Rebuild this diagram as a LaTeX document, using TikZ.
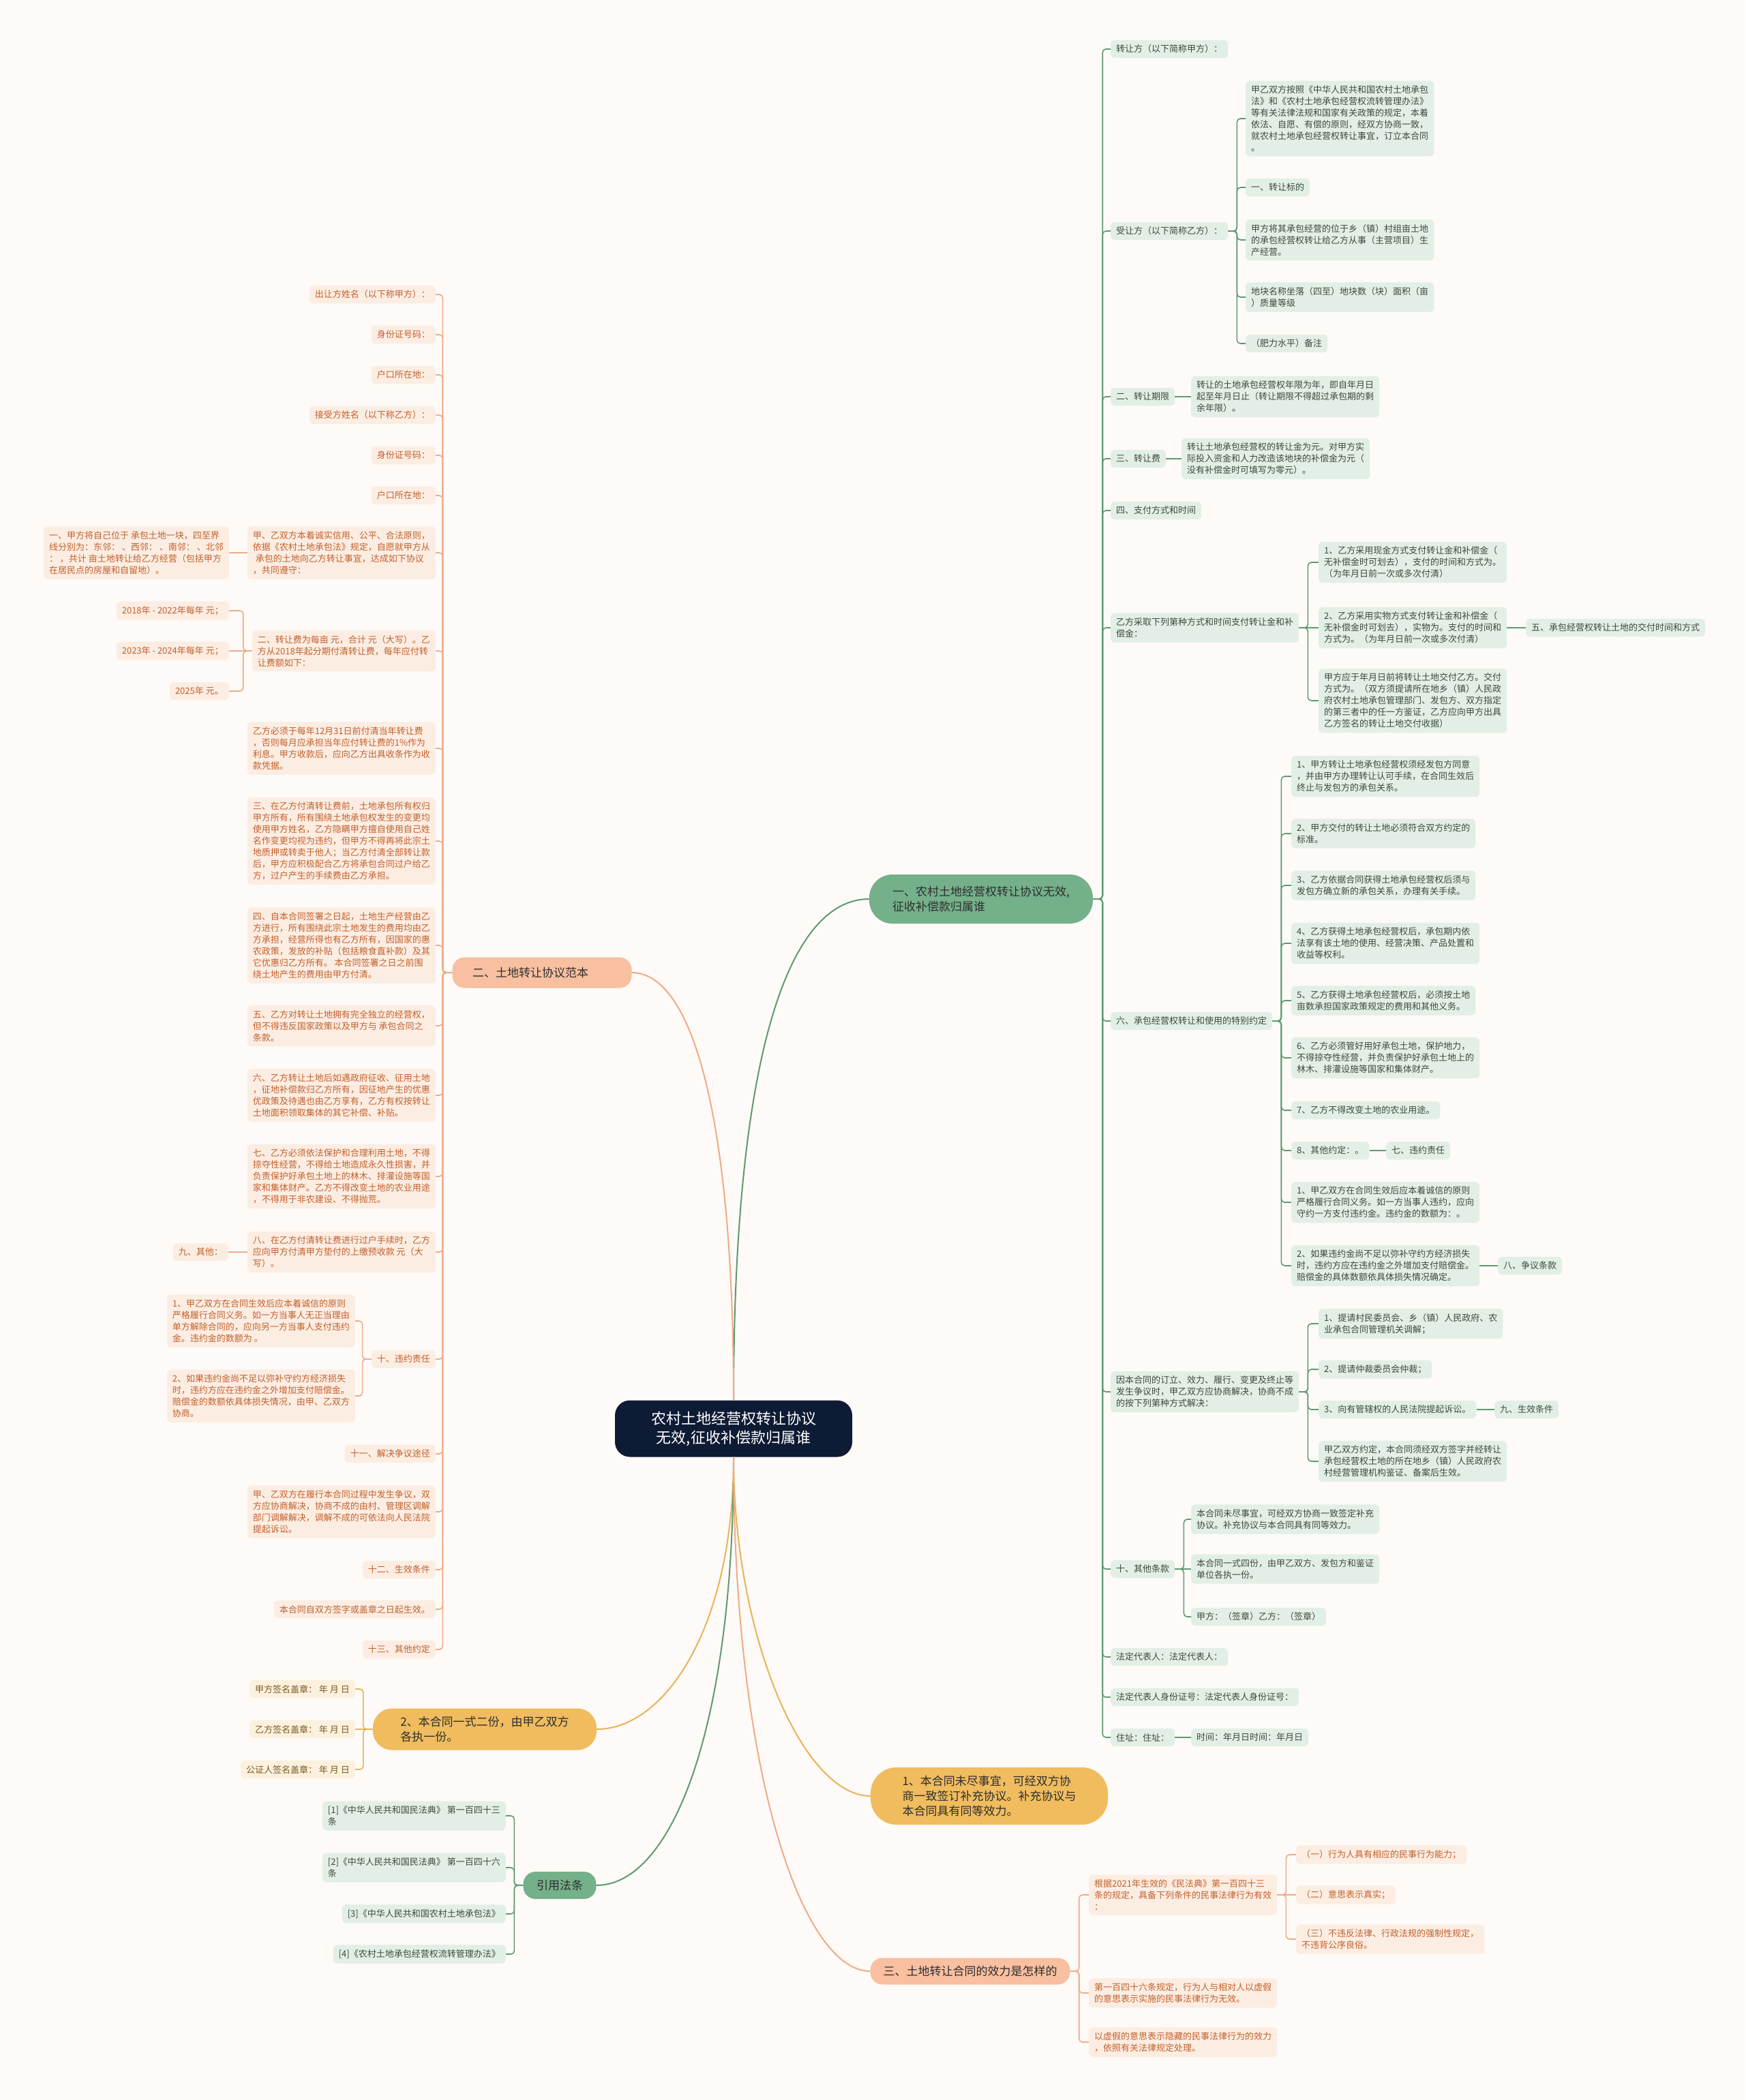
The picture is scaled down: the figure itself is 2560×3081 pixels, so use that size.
\documentclass[tikz,border=0pt]{standalone}
\usepackage{fontspec}
\setmainfont{Noto Sans CJK SC}
\usepackage{tikz}

\definecolor{bgcream}{HTML}{FDFAF7}
\definecolor{rootblue}{HTML}{0E1B35}
\definecolor{grnmain}{HTML}{74B08A}
\definecolor{grnline}{HTML}{5E9A70}
\definecolor{grnlight}{HTML}{E2EFE6}
\definecolor{grntext}{HTML}{3B4A40}
\definecolor{salmain}{HTML}{F8BFA0}
\definecolor{salline}{HTML}{EFAB85}
\definecolor{sallight}{HTML}{FCEDE3}
\definecolor{saltext}{HTML}{C2602A}
\definecolor{yelmain}{HTML}{F0BC5E}
\definecolor{yelline}{HTML}{E6B45A}
\definecolor{yellight}{HTML}{FCF1DE}
\definecolor{yeltext}{HTML}{7A5A22}

\begin{document}
\begin{tikzpicture}[x=1pt,y=-1pt,
  leaf/.style={rounded corners=6pt,inner xsep=8pt,inner ysep=7pt,align=left,font=\fontsize{13}{17}\selectfont},
  gleaf/.style={leaf,fill=grnlight,text=grntext},
  sleaf/.style={leaf,fill=sallight,text=saltext},
  yleaf/.style={leaf,fill=yellight,text=yeltext},
  topic/.style={rounded corners=18pt,align=left,text=black!82,font=\fontsize{17}{22}\selectfont},
  gtopic/.style={topic,fill=grnmain},
  stopic/.style={topic,fill=salmain},
  ytopic/.style={topic,fill=yelmain},
  rootbox/.style={fill=rootblue,text=white,rounded corners=22pt,align=center,font=\fontsize{22}{28}\selectfont},
  gline/.style={draw=grnline,line width=1.6pt,rounded corners=5pt},
  sline/.style={draw=salline,line width=1.6pt,rounded corners=5pt},
  yline/.style={draw=yelline,line width=1.6pt,rounded corners=5pt},
  curve/.style={line width=2pt}]

\fill[bgcream] (0,0) rectangle (2560,3081);
\useasboundingbox (0,0) rectangle (2560,3081);

% Root and main branches
\node[rootbox,minimum width=348pt,minimum height=83pt] (root) at (1076,2096) {农村土地经营权转让协议\\无效,征收补偿款归属谁};
\node[gtopic,minimum width=328pt,minimum height=72pt,rounded corners=34pt] (b1) at (1439,1319) {一、农村土地经营权转让协议无效,\\征收补偿款归属谁};
\node[stopic,minimum width=263pt,minimum height=45pt] (b2) at (795,1427) {二、土地转让协议范本\hspace*{34pt}};
\node[ytopic,minimum width=328pt,minimum height=61pt,rounded corners=28pt] (b3) at (711,2537) {2、本合同一式二份，由甲乙双方\\各执一份。};
\node[gtopic,minimum width=107pt,minimum height=40pt] (b4) at (821,2766) {引用法条};
\node[ytopic,minimum width=348pt,minimum height=84pt,rounded corners=38pt] (b5) at (1451,2635) {1、本合同未尽事宜，可经双方协\\商一致签订补充协议。补充协议与\\本合同具有同等效力。};
\node[stopic,minimum width=293pt,minimum height=39pt] (b6) at (1423,2892) {三、土地转让合同的效力是怎样的};

% Branch 1: contract items on the right
\node[gleaf,anchor=west] (ra) at (1629,72) {转让方（以下简称甲方）：};
\node[gleaf,anchor=west] (rb) at (1629,339) {受让方（以下简称乙方）：};
\node[gleaf,anchor=west] (rb1) at (1827,174) {甲乙双方按照《中华人民共和国农村土地承包\\法》和《农村土地承包经营权流转管理办法》\\等有关法律法规和国家有关政策的规定，本着\\依法、自愿、有偿的原则，经双方协商一致，\\就农村土地承包经营权转让事宜，订立本合同\\。};
\node[gleaf,anchor=west] (rb2) at (1827,275) {一、转让标的};
\node[gleaf,anchor=west] (rb3) at (1827,352) {甲方将其承包经营的位于乡（镇）村组亩土地\\的承包经营权转让给乙方从事（主营项目）生\\产经营。};
\node[gleaf,anchor=west] (rb4) at (1827,436) {地块名称坐落（四至）地块数（块）面积（亩\\）质量等级};
\node[gleaf,anchor=west] (rb5) at (1827,504) {（肥力水平）备注};
\node[gleaf,anchor=west] (rc) at (1629,582) {二、转让期限};
\node[gleaf,anchor=west] (rc1) at (1747,582) {转让的土地承包经营权年限为年，即自年月日\\起至年月日止（转让期限不得超过承包期的剩\\余年限）。};
\node[gleaf,anchor=west] (rd) at (1629,673) {三、转让费};
\node[gleaf,anchor=west] (rd1) at (1733,673) {转让土地承包经营权的转让金为元。对甲方实\\际投入资金和人力改造该地块的补偿金为元（\\没有补偿金时可填写为零元）。};
\node[gleaf,anchor=west] (re) at (1629,749) {四、支付方式和时间};
\node[gleaf,anchor=west] (rf) at (1629,921) {乙方采取下列第种方式和时间支付转让金和补\\偿金：};
\node[gleaf,anchor=west] (rf1) at (1934,825) {1、乙方采用现金方式支付转让金和补偿金（\\无补偿金时可划去），支付的时间和方式为。\\（为年月日前一次或多次付清）};
\node[gleaf,anchor=west] (rf2) at (1934,921) {2、乙方采用实物方式支付转让金和补偿金（\\无补偿金时可划去），实物为。支付的时间和\\方式为。（为年月日前一次或多次付清）};
\node[gleaf,anchor=west] (rf2a) at (2238,921) {五、承包经营权转让土地的交付时间和方式};
\node[gleaf,anchor=west] (rf3) at (1934,1028) {甲方应于年月日前将转让土地交付乙方。交付\\方式为。（双方须提请所在地乡（镇）人民政\\府农村土地承包管理部门、发包方、双方指定\\的第三者中的任一方鉴证，乙方应向甲方出具\\乙方签名的转让土地交付收据）};
\node[gleaf,anchor=west] (rg) at (1629,1498) {六、承包经营权转让和使用的特别约定};
\node[gleaf,anchor=west] (rg1) at (1894,1139) {1、甲方转让土地承包经营权须经发包方同意\\，并由甲方办理转让认可手续，在合同生效后\\终止与发包方的承包关系。};
\node[gleaf,anchor=west] (rg2) at (1894,1223) {2、甲方交付的转让土地必须符合双方约定的\\标准。};
\node[gleaf,anchor=west] (rg3) at (1894,1299) {3、乙方依据合同获得土地承包经营权后须与\\发包方确立新的承包关系，办理有关手续。};
\node[gleaf,anchor=west] (rg4) at (1894,1384) {4、乙方获得土地承包经营权后，承包期内依\\法享有该土地的使用、经营决策、产品处置和\\收益等权利。};
\node[gleaf,anchor=west] (rg5) at (1894,1468) {5、乙方获得土地承包经营权后，必须按土地\\亩数承担国家政策规定的费用和其他义务。};
\node[gleaf,anchor=west] (rg6) at (1894,1552) {6、乙方必须管好用好承包土地，保护地力，\\不得掠夺性经营，并负责保护好承包土地上的\\林木、排灌设施等国家和集体财产。};
\node[gleaf,anchor=west] (rg7) at (1894,1629) {7、乙方不得改变土地的农业用途。};
\node[gleaf,anchor=west] (rg8) at (1894,1688) {8、其他约定：。};
\node[gleaf,anchor=west] (rg8a) at (2033,1688) {七、违约责任};
\node[gleaf,anchor=west] (rg9) at (1894,1764) {1、甲乙双方在合同生效后应本着诚信的原则\\严格履行合同义务。如一方当事人违约，应向\\守约一方支付违约金。违约金的数额为：。};
\node[gleaf,anchor=west] (rg10) at (1894,1857) {2、如果违约金尚不足以弥补守约方经济损失\\时，违约方应在违约金之外增加支付赔偿金。\\赔偿金的具体数额依具体损失情况确定。};
\node[gleaf,anchor=west] (rg10a) at (2197,1857) {八、争议条款};
\node[gleaf,anchor=west] (rh) at (1629,2042) {因本合同的订立、效力、履行、变更及终止等\\发生争议时，甲乙双方应协商解决，协商不成\\的按下列第种方式解决：};
\node[gleaf,anchor=west] (rh1) at (1934,1942) {1、提请村民委员会、乡（镇）人民政府、农\\业承包合同管理机关调解；};
\node[gleaf,anchor=west] (rh2) at (1934,2009) {2、提请仲裁委员会仲裁；};
\node[gleaf,anchor=west] (rh3) at (1934,2068) {3、向有管辖权的人民法院提起诉讼。};
\node[gleaf,anchor=west] (rh3a) at (2192,2068) {九、生效条件};
\node[gleaf,anchor=west] (rh4) at (1934,2144) {甲乙双方约定，本合同须经双方签字并经转让\\承包经营权土地的所在地乡（镇）人民政府农\\村经营管理机构鉴证、备案后生效。};
\node[gleaf,anchor=west] (ri) at (1629,2302) {十、其他条款};
\node[gleaf,anchor=west] (ri1) at (1747,2229) {本合同未尽事宜，可经双方协商一致签定补充\\协议。补充协议与本合同具有同等效力。};
\node[gleaf,anchor=west] (ri2) at (1747,2302) {本合同一式四份，由甲乙双方、发包方和鉴证\\单位各执一份。};
\node[gleaf,anchor=west] (ri3) at (1747,2372) {甲方：（签章）乙方：（签章）};
\node[gleaf,anchor=west] (rj) at (1629,2431) {法定代表人：法定代表人：};
\node[gleaf,anchor=west] (rk) at (1629,2490) {法定代表人身份证号：法定代表人身份证号：};
\node[gleaf,anchor=west] (rl) at (1629,2549) {住址：住址：};
\node[gleaf,anchor=west] (rl1) at (1747,2549) {时间：年月日时间：年月日};

% Branch 2: agreement sample on the left
\node[sleaf,anchor=east] (l1) at (639,432) {出让方姓名（以下称甲方）：};
\node[sleaf,anchor=east] (l2) at (639,491) {身份证号码：};
\node[sleaf,anchor=east] (l3) at (639,550) {户口所在地：};
\node[sleaf,anchor=east] (l4) at (639,609) {接受方姓名（以下称乙方）：};
\node[sleaf,anchor=east] (l5) at (639,668) {身份证号码：};
\node[sleaf,anchor=east] (l6) at (639,727) {户口所在地：};
\node[sleaf,anchor=east] (l7) at (639,811) {甲、乙双方本着诚实信用、公平、合法原则，\\依据《农村土地承包法》规定，自愿就甲方从\\\hspace*{4pt}承包的土地向乙方转让事宜，达成如下协议\\，共同遵守：};
\node[sleaf,anchor=east] (l7a) at (336,811) {一、甲方将自己位于 承包土地一块，四至界\\线分别为：东邻：~、西邻：~、南邻：~、北邻\\：~，共计 亩土地转让给乙方经营（包括甲方\\在居民点的房屋和自留地）。};
\node[sleaf,anchor=east] (l8) at (639,955) {二、转让费为每亩 元，合计 元（大写）。乙\\方从2018年起分期付清转让费，每年应付转\\让费额如下：};
\node[sleaf,anchor=east] (l8a) at (336,896) {2018年 - 2022年每年 元；};
\node[sleaf,anchor=east] (l8b) at (336,955) {2023年 - 2024年每年 元；};
\node[sleaf,anchor=east] (l8c) at (336,1014) {2025年 元。};
\node[sleaf,anchor=east] (l9) at (639,1098) {乙方必须于每年12月31日前付清当年转让费\\，否则每月应承担当年应付转让费的1\%作为\\利息。甲方收款后，应向乙方出具收条作为收\\款凭据。};
\node[sleaf,anchor=east] (l10) at (639,1234) {三、在乙方付清转让费前，土地承包所有权归\\甲方所有，所有围绕土地承包权发生的变更均\\使用甲方姓名，乙方隐瞒甲方擅自使用自己姓\\名作变更均视为违约，但甲方不得再将此宗土\\地质押或转卖于他人；当乙方付清全部转让款\\后，甲方应积极配合乙方将承包合同过户给乙\\方，过户产生的手续费由乙方承担。};
\node[sleaf,anchor=east] (l11) at (639,1387) {四、自本合同签署之日起，土地生产经营由乙\\方进行，所有围绕此宗土地发生的费用均由乙\\方承担，经营所得也有乙方所有，因国家的惠\\农政策，发放的补贴（包括粮食直补款）及其\\它优惠归乙方所有。 本合同签署之日之前围\\绕土地产生的费用由甲方付清。};
\node[sleaf,anchor=east] (l12) at (639,1505) {五、乙方对转让土地拥有完全独立的经营权，\\但不得违反国家政策以及甲方与 承包合同之\\条款。};
\node[sleaf,anchor=east] (l13) at (639,1607) {六、乙方转让土地后如遇政府征收、征用土地\\，征地补偿款归乙方所有，因征地产生的优惠\\优政策及待遇也由乙方享有，乙方有权按转让\\土地面积领取集体的其它补偿、补贴。};
\node[sleaf,anchor=east] (l14) at (639,1726) {七、乙方必须依法保护和合理利用土地，不得\\掠夺性经营，不得给土地造成永久性损害，并\\负责保护好承包土地上的林木、排灌设施等国\\家和集体财产。乙方不得改变土地的农业用途\\，不得用于非农建设、不得抛荒。};
\node[sleaf,anchor=east] (l15) at (639,1837) {八、在乙方付清转让费进行过户手续时，乙方\\应向甲方付清甲方垫付的上缴预收款 元（大\\写）。};
\node[sleaf,anchor=east] (l15a) at (335,1837) {九、其他：};
\node[sleaf,anchor=east] (l16) at (639,1994) {十、违约责任};
\node[sleaf,anchor=east] (l16a) at (521,1938) {1、甲乙双方在合同生效后应本着诚信的原则\\严格履行合同义务。如一方当事人无正当理由\\单方解除合同的，应向另一方当事人支付违约\\金。违约金的数额为 。};
\node[sleaf,anchor=east] (l16b) at (521,2048) {2、如果违约金尚不足以弥补守约方经济损失\\时，违约方应在违约金之外增加支付赔偿金。\\赔偿金的数额依具体损失情况，由甲、乙双方\\协商。};
\node[sleaf,anchor=east] (l17) at (639,2133) {十一、解决争议途径};
\node[sleaf,anchor=east] (l18) at (639,2218) {甲、乙双方在履行本合同过程中发生争议，双\\方应协商解决，协商不成的由村、管理区调解\\部门调解解决，调解不成的可依法向人民法院\\提起诉讼。};
\node[sleaf,anchor=east] (l19) at (639,2303) {十二、生效条件};
\node[sleaf,anchor=east] (l20) at (639,2361) {本合同自双方签字或盖章之日起生效。};
\node[sleaf,anchor=east] (l21) at (639,2420) {十三、其他约定};

% Signatures
\node[yleaf,anchor=east] (y1) at (521,2478) {甲方签名盖章： 年 月 日};
\node[yleaf,anchor=east] (y2) at (521,2537) {乙方签名盖章： 年 月 日};
\node[yleaf,anchor=east] (y3) at (521,2596) {公证人签名盖章： 年 月 日};

% Cited laws
\node[gleaf,anchor=east] (c1) at (742,2664) {[1]《中华人民共和国民法典》 第一百四十三\\条};
\node[gleaf,anchor=east] (c2) at (742,2740) {[2]《中华人民共和国民法典》 第一百四十六\\条};
\node[gleaf,anchor=east] (c3) at (742,2808) {[3]《中华人民共和国农村土地承包法》};
\node[gleaf,anchor=east] (c4) at (742,2867) {[4]《农村土地承包经营权流转管理办法》};

% Branch 3: validity of the contract
\node[sleaf,anchor=west] (s1) at (1597,2780) {根据2021年生效的《民法典》第一百四十三\\条的规定，具备下列条件的民事法律行为有效\\：};
\node[sleaf,anchor=west] (s1a) at (1901,2721) {（一）行为人具有相应的民事行为能力；};
\node[sleaf,anchor=west] (s1b) at (1901,2780) {（二）意思表示真实；};
\node[sleaf,anchor=west] (s1c) at (1901,2845) {（三）不违反法律、行政法规的强制性规定，\\不违背公序良俗。};
\node[sleaf,anchor=west] (s2) at (1597,2924) {第一百四十六条规定，行为人与相对人以虚假\\的意思表示实施的民事法律行为无效。};
\node[sleaf,anchor=west] (s3) at (1597,2996) {以虚假的意思表示隐藏的民事法律行为的效力\\，依照有关法律规定处理。};

% Root to branches
\draw[gline,curve] (root.north) .. controls +(0,-500) and +(-120,0) .. (b1.west);
\draw[sline,curve] (root.north) .. controls +(0,-410) and +(90,0) .. (b2.east);
\draw[yline,curve] (root.south) .. controls +(0,250) and +(100,0) .. (b3.east);
\draw[gline,curve] (root.south) .. controls +(0,400) and +(110,0) .. (b4.east);
\draw[yline,curve] (root.south) .. controls +(0,260) and +(-100,0) .. (b5.west);
\draw[sline,curve] (root.south) .. controls +(0,460) and +(-100,0) .. (b6.west);

% Branch 1 connectors
\draw[gline] (b1.east) -- ++(14,0) |- (ra.west);
\draw[gline] (b1.east) -- ++(14,0) |- (rb.west);
\draw[gline] (b1.east) -- ++(14,0) |- (rc.west);
\draw[gline] (b1.east) -- ++(14,0) |- (rd.west);
\draw[gline] (b1.east) -- ++(14,0) |- (re.west);
\draw[gline] (b1.east) -- ++(14,0) |- (rf.west);
\draw[gline] (b1.east) -- ++(14,0) |- (rg.west);
\draw[gline] (b1.east) -- ++(14,0) |- (rh.west);
\draw[gline] (b1.east) -- ++(14,0) |- (ri.west);
\draw[gline] (b1.east) -- ++(14,0) |- (rj.west);
\draw[gline] (b1.east) -- ++(14,0) |- (rk.west);
\draw[gline] (b1.east) -- ++(14,0) |- (rl.west);
\draw[gline] (rb.east) -- ++(13,0) |- (rb1.west);
\draw[gline] (rb.east) -- ++(13,0) |- (rb2.west);
\draw[gline] (rb.east) -- ++(13,0) |- (rb3.west);
\draw[gline] (rb.east) -- ++(13,0) |- (rb4.west);
\draw[gline] (rb.east) -- ++(13,0) |- (rb5.west);
\draw[gline] (rc.east) -- (rc1.west);
\draw[gline] (rd.east) -- (rd1.west);
\draw[gline] (rf.east) -- ++(13,0) |- (rf1.west);
\draw[gline] (rf.east) -- (rf2.west);
\draw[gline] (rf.east) -- ++(13,0) |- (rf3.west);
\draw[gline] (rf2.east) -- (rf2a.west);
\draw[gline] (rg.east) -- ++(13,0) |- (rg1.west);
\draw[gline] (rg.east) -- ++(13,0) |- (rg2.west);
\draw[gline] (rg.east) -- ++(13,0) |- (rg3.west);
\draw[gline] (rg.east) -- ++(13,0) |- (rg4.west);
\draw[gline] (rg.east) -- ++(13,0) |- (rg5.west);
\draw[gline] (rg.east) -- ++(13,0) |- (rg6.west);
\draw[gline] (rg.east) -- ++(13,0) |- (rg7.west);
\draw[gline] (rg.east) -- ++(13,0) |- (rg8.west);
\draw[gline] (rg.east) -- ++(13,0) |- (rg9.west);
\draw[gline] (rg.east) -- ++(13,0) |- (rg10.west);
\draw[gline] (rg8.east) -- (rg8a.west);
\draw[gline] (rg10.east) -- (rg10a.west);
\draw[gline] (rh.east) -- ++(13,0) |- (rh1.west);
\draw[gline] (rh.east) -- ++(13,0) |- (rh2.west);
\draw[gline] (rh.east) -- ++(13,0) |- (rh3.west);
\draw[gline] (rh.east) -- ++(13,0) |- (rh4.west);
\draw[gline] (rh3.east) -- (rh3a.west);
\draw[gline] (ri.east) -- ++(13,0) |- (ri1.west);
\draw[gline] (ri.east) -- (ri2.west);
\draw[gline] (ri.east) -- ++(13,0) |- (ri3.west);
\draw[gline] (rl.east) -- (rl1.west);

% Branch 2 connectors
\draw[sline] (b2.west) -- ++(-14,0) |- (l1.east);
\draw[sline] (b2.west) -- ++(-14,0) |- (l2.east);
\draw[sline] (b2.west) -- ++(-14,0) |- (l3.east);
\draw[sline] (b2.west) -- ++(-14,0) |- (l4.east);
\draw[sline] (b2.west) -- ++(-14,0) |- (l5.east);
\draw[sline] (b2.west) -- ++(-14,0) |- (l6.east);
\draw[sline] (b2.west) -- ++(-14,0) |- (l7.east);
\draw[sline] (b2.west) -- ++(-14,0) |- (l8.east);
\draw[sline] (b2.west) -- ++(-14,0) |- (l9.east);
\draw[sline] (b2.west) -- ++(-14,0) |- (l10.east);
\draw[sline] (b2.west) -- ++(-14,0) |- (l11.east);
\draw[sline] (b2.west) -- ++(-14,0) |- (l12.east);
\draw[sline] (b2.west) -- ++(-14,0) |- (l13.east);
\draw[sline] (b2.west) -- ++(-14,0) |- (l14.east);
\draw[sline] (b2.west) -- ++(-14,0) |- (l15.east);
\draw[sline] (b2.west) -- ++(-14,0) |- (l16.east);
\draw[sline] (b2.west) -- ++(-14,0) |- (l17.east);
\draw[sline] (b2.west) -- ++(-14,0) |- (l18.east);
\draw[sline] (b2.west) -- ++(-14,0) |- (l19.east);
\draw[sline] (b2.west) -- ++(-14,0) |- (l20.east);
\draw[sline] (b2.west) -- ++(-14,0) |- (l21.east);
\draw[sline] (l7.west) -- (l7a.east);
\draw[sline] (l8.west) -- ++(-13,0) |- (l8a.east);
\draw[sline] (l8.west) -- (l8b.east);
\draw[sline] (l8.west) -- ++(-13,0) |- (l8c.east);
\draw[sline] (l15.west) -- (l15a.east);
\draw[sline] (l16.west) -- ++(-13,0) |- (l16a.east);
\draw[sline] (l16.west) -- ++(-13,0) |- (l16b.east);

% Signature and law connectors
\draw[yline] (b3.west) -- ++(-14,0) |- (y1.east);
\draw[yline] (b3.west) -- (y2.east);
\draw[yline] (b3.west) -- ++(-14,0) |- (y3.east);
\draw[gline] (b4.west) -- ++(-13,0) |- (c1.east);
\draw[gline] (b4.west) -- ++(-13,0) |- (c2.east);
\draw[gline] (b4.west) -- ++(-13,0) |- (c3.east);
\draw[gline] (b4.west) -- ++(-13,0) |- (c4.east);

% Branch 3 connectors
\draw[sline] (b6.east) -- ++(13,0) |- (s1.west);
\draw[sline] (b6.east) -- ++(13,0) |- (s2.west);
\draw[sline] (b6.east) -- ++(13,0) |- (s3.west);
\draw[sline] (s1.east) -- ++(13,0) |- (s1a.west);
\draw[sline] (s1.east) -- (s1b.west);
\draw[sline] (s1.east) -- ++(13,0) |- (s1c.west);
\end{tikzpicture}
\end{document}
